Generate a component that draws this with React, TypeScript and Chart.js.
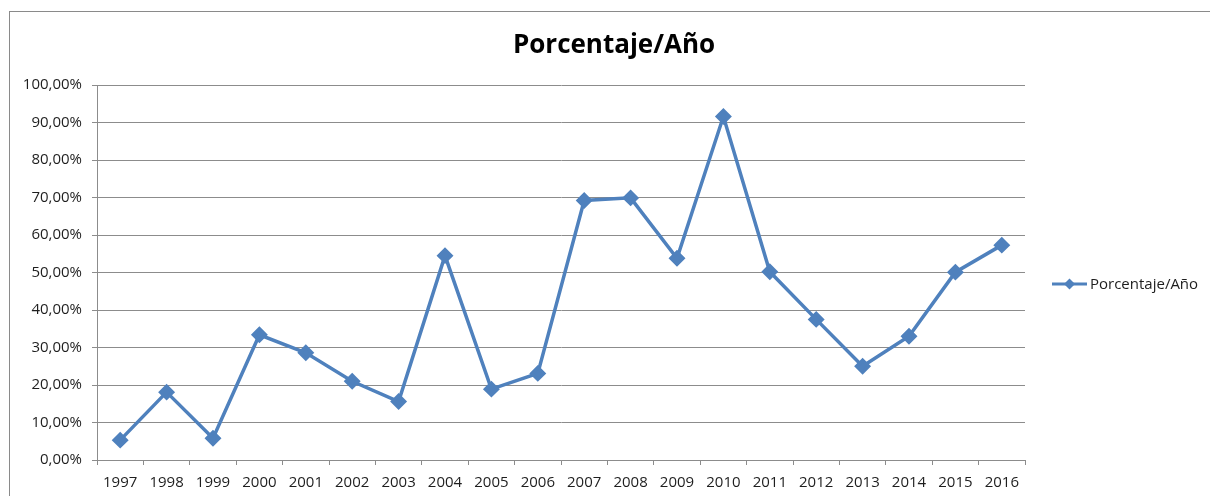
import React, { useEffect, useRef } from "react";
import { Chart, registerables } from "chart.js";

Chart.register(...registerables);

const years: string[] = [
  "1997", "1998", "1999", "2000", "2001", "2002", "2003", "2004", "2005", "2006",
  "2007", "2008", "2009", "2010", "2011", "2012", "2013", "2014", "2015", "2016",
];
const percentages: number[] = [
  5.3, 18.1, 5.8, 33.4, 28.6, 21.0, 15.6, 54.5, 18.9, 23.1,
  69.2, 69.9, 53.8, 91.6, 50.2, 37.5, 25.0, 33.0, 50.1, 57.3,
];
const seriesLabel = "Porcentaje/Año";
const chartTitle = "Porcentaje/Año";

const LINE_COLOR = "#4F81BD";
const GRID_COLOR = "#8C8C8C";
const TEXT_COLOR = "#1E1E1E";
const FONT = "'Open Sans', 'Noto Sans', sans-serif";

const overlayPlugin = {
  id: "overlay",
  afterDraw(chart: any) {
    const ctx = chart.ctx as CanvasRenderingContext2D;
    ctx.save();
    // title
    ctx.font = `bold 26px ${FONT}`;
    ctx.fillStyle = "#000";
    ctx.textAlign = "center";
    ctx.textBaseline = "middle";
    ctx.fillText(chartTitle, 614, 46);
    // legend
    const ly = 284;
    const lx = 1052;
    ctx.strokeStyle = LINE_COLOR;
    ctx.lineWidth = 3;
    ctx.beginPath();
    ctx.moveTo(lx, ly);
    ctx.lineTo(lx + 35, ly);
    ctx.stroke();
    ctx.fillStyle = LINE_COLOR;
    ctx.beginPath();
    const cx = lx + 17.5;
    const r = 5.5;
    ctx.moveTo(cx, ly - r);
    ctx.lineTo(cx + r, ly);
    ctx.lineTo(cx, ly + r);
    ctx.lineTo(cx - r, ly);
    ctx.closePath();
    ctx.fill();
    ctx.font = `15px ${FONT}`;
    ctx.fillStyle = TEXT_COLOR;
    ctx.textAlign = "left";
    ctx.fillText(chart.data.datasets[0].label, lx + 38, ly + 1);
    ctx.restore();
  },
};

export default function App() {
  const canvasRef = useRef<HTMLCanvasElement | null>(null);

  useEffect(() => {
    document.body.style.margin = "0";
    const canvas = canvasRef.current;
    if (!canvas) return;
    const chart = new Chart(canvas, {
      type: "line",
      data: {
        labels: years,
        datasets: [
          {
            label: seriesLabel,
            data: percentages,
            borderColor: LINE_COLOR,
            backgroundColor: LINE_COLOR,
            borderWidth: 3.5,
            pointStyle: "rectRot",
            pointRadius: 6,
            pointHoverRadius: 6,
            pointBackgroundColor: LINE_COLOR,
            pointBorderColor: LINE_COLOR,
            tension: 0,
          },
        ],
      },
      options: {
        animation: false,
        responsive: false,
        maintainAspectRatio: false,
        layout: { padding: { top: 85, right: 185, bottom: 0, left: 0 } },
        plugins: {
          legend: { display: false },
          title: { display: false },
          tooltip: { enabled: false },
        },
        scales: {
          x: {
            type: "category",
            offset: true,
            afterFit(scale: any) {
              scale.height = 36;
            },
            grid: {
              offset: true,
              drawOnChartArea: false,
              drawTicks: true,
              tickLength: 5,
              color: GRID_COLOR,
            },
            border: { display: true, color: GRID_COLOR },
            ticks: {
              color: TEXT_COLOR,
              font: { family: FONT, size: 15 },
              padding: 9,
              maxRotation: 0,
              autoSkip: false,
            },
          },
          y: {
            min: 0,
            max: 100,
            afterFit(scale: any) {
              scale.width = 97;
            },
            grid: {
              color: GRID_COLOR,
              tickLength: 5,
              lineWidth: 1,
            },
            border: { display: true, color: GRID_COLOR },
            ticks: {
              stepSize: 10,
              color: TEXT_COLOR,
              font: { family: FONT, size: 15 },
              padding: 10,
              callback: (v: any) => Number(v).toFixed(2).replace(".", ",") + "%",
            },
          },
        },
      },
      plugins: [overlayPlugin],
    });
    return () => chart.destroy();
  }, []);

  return (
    <div
      style={{
        position: "fixed",
        left: 0,
        top: 0,
        width: 1210,
        height: 496,
        overflow: "hidden",
        background: "#fff",
      }}
    >
      <div
        style={{
          position: "absolute",
          left: 9,
          top: 11,
          width: 1300,
          height: 600,
          border: "1px solid #8A8A8A",
          boxSizing: "border-box",
        }}
      />
      <canvas
        ref={canvasRef}
        width={1210}
        height={496}
        style={{ position: "absolute", left: 0, top: 0, width: 1210, height: 496 }}
      />
    </div>
  );
}
